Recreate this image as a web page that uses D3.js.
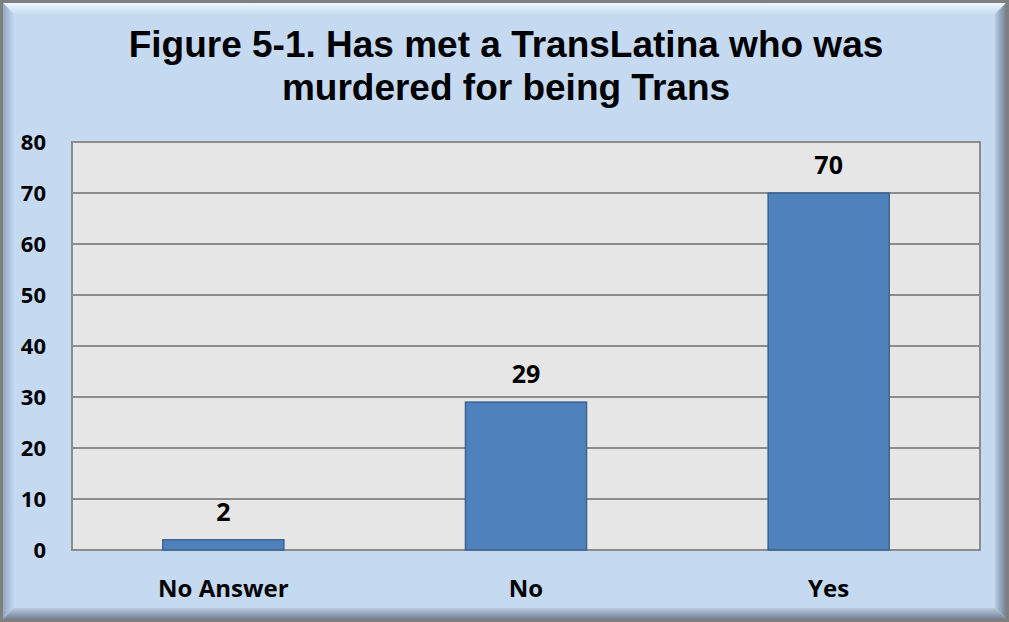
<!DOCTYPE html>
<html>
<head>
<meta charset="utf-8">
<script src="https://cdn.jsdelivr.net/npm/d3@7"></script>
<style>
  body { margin: 0; background: #fff; }
  svg { display: block; }
</style>
</head>
<body>
<div id="chart"></div>
<script>
// chart data
var categories = ["No Answer", "No", "Yes"];
var counts = [2, 29, 70];
var yTicks = [0, 10, 20, 30, 40, 50, 60, 70, 80];
var titleLines = ["Figure 5-1. Has met a TransLatina who was", "murdered for being Trans"];

var svgWidth = 1009;
var svgHeight = 622;

var plot = { left: 72, right: 980, top: 142, bottom: 550 };

var svg = d3.select("#chart")
  .append("svg")
  .attr("width", svgWidth)
  .attr("height", svgHeight);

var defs = svg.append("defs");

// bevel gradients for the frame
function grad(id, x2, y2, stops) {
  var g = defs.append("linearGradient")
    .attr("id", id)
    .attr("x1", 0).attr("y1", 0).attr("x2", x2).attr("y2", y2);
  stops.forEach(function(s) {
    g.append("stop").attr("offset", s[0]).attr("stop-color", s[1]);
  });
}
grad("bevTop", 0, 1, [["0", "#f2f7fd"], ["1", "#c8dcf2"]]);
grad("bevLeft", 1, 0, [["0", "#8fa4bd"], ["1", "#c3d7ef"]]);
grad("bevRight", 1, 0, [["0", "#b9cbe1"], ["1", "#6e7c8c"]]);
grad("bevBottom", 0, 1, [["0", "#b9cbe1"], ["1", "#6e7c8c"]]);

// background
svg.append("rect")
  .attr("x", 0).attr("y", 0)
  .attr("width", svgWidth).attr("height", svgHeight)
  .attr("fill", "#c5d9f1");

var b = 12, W = svgWidth - 4, H = svgHeight - 4, o = 2;
// top bevel
svg.append("polygon")
  .attr("points", [[o, o], [W + o, o], [W + o - b, o + b], [o + b, o + b]].join(" "))
  .attr("fill", "url(#bevTop)");
// left bevel
svg.append("polygon")
  .attr("points", [[o, o], [o + b, o + b], [o + b, H + o - b], [o, H + o]].join(" "))
  .attr("fill", "url(#bevLeft)");
// right bevel
svg.append("polygon")
  .attr("points", [[W + o, o], [W + o, H + o], [W + o - b, H + o - b], [W + o - b, o + b]].join(" "))
  .attr("fill", "url(#bevRight)");
// bottom bevel
svg.append("polygon")
  .attr("points", [[o, H + o], [o + b, H + o - b], [W + o - b, H + o - b], [W + o, H + o]].join(" "))
  .attr("fill", "url(#bevBottom)");
// outer border
svg.append("rect")
  .attr("x", 1.5).attr("y", 1.5)
  .attr("width", svgWidth - 3).attr("height", svgHeight - 3)
  .attr("fill", "none")
  .attr("stroke", "#7f7f7f")
  .attr("stroke-width", 3);

// title
svg.append("text")
  .attr("text-anchor", "middle")
  .attr("font-family", "Liberation Sans, Arial, sans-serif")
  .attr("font-weight", "bold")
  .attr("font-size", 37)
  .attr("fill", "#000")
  .selectAll("tspan")
  .data(titleLines)
  .enter()
  .append("tspan")
  .attr("x", 506)
  .attr("y", (d, i) => 57 + i * 43)
  .text(d => d);

// scales
var xScale = d3.scaleBand()
  .domain(categories)
  .range([plot.left, plot.right])
  .paddingInner(0.6)
  .paddingOuter(0.3);

var yScale = d3.scaleLinear()
  .domain([0, 80])
  .range([plot.bottom, plot.top]);

// plot area
svg.append("rect")
  .attr("x", plot.left).attr("y", plot.top)
  .attr("width", plot.right - plot.left)
  .attr("height", plot.bottom - plot.top)
  .attr("fill", "#e6e6e6");

// gridlines
svg.append("g")
  .selectAll("line")
  .data(yTicks)
  .enter()
  .append("line")
  .attr("x1", plot.left).attr("x2", plot.right)
  .attr("y1", d => yScale(d)).attr("y2", d => yScale(d))
  .attr("stroke", "#8c8c8c")
  .attr("stroke-width", 2);

// plot border
svg.append("rect")
  .attr("x", plot.left).attr("y", plot.top)
  .attr("width", plot.right - plot.left)
  .attr("height", plot.bottom - plot.top)
  .attr("fill", "none")
  .attr("stroke", "#8c8c8c")
  .attr("stroke-width", 2);

// y axis labels
var leftAxis = d3.axisLeft(yScale)
  .tickValues(yTicks)
  .tickSize(0)
  .tickPadding(26);

var yAxis = svg.append("g")
  .attr("transform", `translate(${plot.left}, 0)`)
  .call(leftAxis);
yAxis.select(".domain").remove();
yAxis.selectAll("text")
  .attr("font-family", "Open Sans, Liberation Sans, sans-serif")
  .attr("font-weight", "bold")
  .attr("font-size", 22)
  .attr("fill", "#000");

// x axis labels
var bottomAxis = d3.axisBottom(xScale).tickSize(0).tickPadding(30);
var xAxis = svg.append("g")
  .attr("transform", `translate(0, ${plot.bottom})`)
  .call(bottomAxis);
xAxis.select(".domain").remove();
xAxis.selectAll("text")
  .attr("font-family", "Open Sans, Liberation Sans, sans-serif")
  .attr("font-weight", "bold")
  .attr("font-size", 24)
  .attr("fill", "#000");

var data = categories.map((c, i) => ({ cat: c, value: counts[i] }));

// bars
svg.append("g")
  .selectAll("rect")
  .data(data)
  .enter()
  .append("rect")
  .attr("x", d => xScale(d.cat))
  .attr("y", d => yScale(d.value))
  .attr("width", xScale.bandwidth())
  .attr("height", d => yScale(0) - yScale(d.value))
  .attr("fill", "#4f81bd")
  .attr("stroke", "#3b6392")
  .attr("stroke-width", 1.5);

// value labels
svg.append("g")
  .selectAll("text")
  .data(data)
  .enter()
  .append("text")
  .attr("x", d => xScale(d.cat) + xScale.bandwidth() / 2)
  .attr("y", d => yScale(d.value) - 19)
  .attr("text-anchor", "middle")
  .attr("font-family", "Open Sans, Liberation Sans, sans-serif")
  .attr("font-weight", "bold")
  .attr("font-size", 25)
  .attr("fill", "#000")
  .text(d => d.value);
</script>
</body>
</html>
